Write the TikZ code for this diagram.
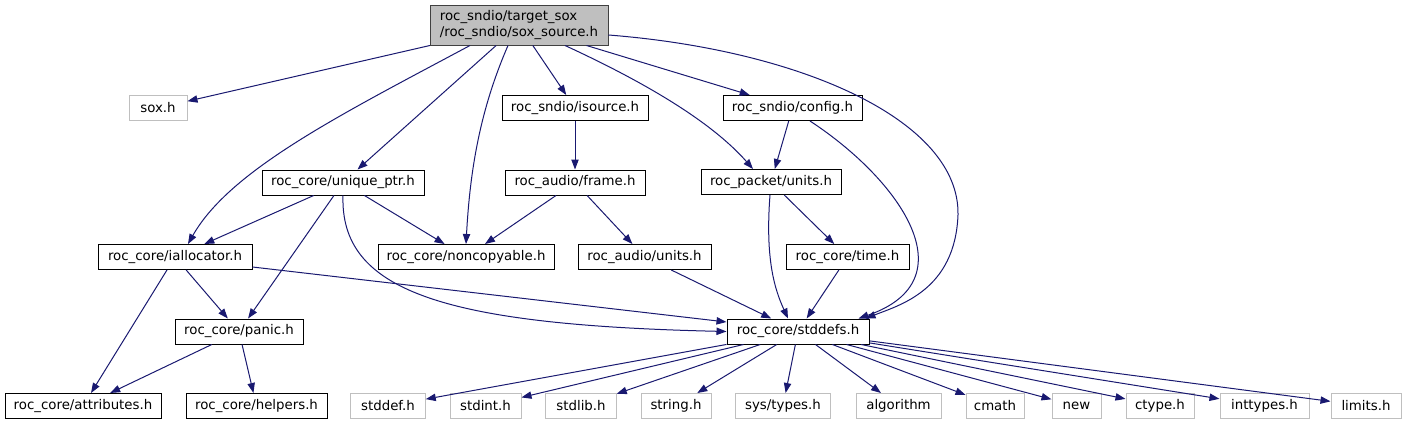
\documentclass[tikz,border=0pt]{standalone}
\usepackage{fontspec}
\setmainfont{DejaVu Sans}
\usetikzlibrary{arrows.meta}
\definecolor{edgeblue}{HTML}{191970}
\definecolor{boxgray}{HTML}{BFBFBF}

\begin{document}
\begin{tikzpicture}[x=0.75pt,y=-0.75pt,
    font=\fontsize{10}{12}\selectfont,
    hdr/.style={draw=black, fill=white, line width=0.75pt, minimum height=18.75pt, inner sep=0pt},
    syshdr/.style={hdr, draw=boxgray},
    dep/.style={draw=edgeblue, line width=0.75pt, -{Triangle[length=7.5pt,width=5.5pt]}}]
    \useasboundingbox (0,0) rectangle (1407,425);

    % The file itself
    \node[hdr, fill=boxgray, draw=black!75, minimum width=133.5pt, minimum height=30pt, align=left] (src) at (519,25)
        {roc\_sndio/target\_sox\\/roc\_sndio/sox\_source.h};

    % Project headers
    \node[syshdr, minimum width=43.5pt] (sox) at (158,108) {sox.h};
    \node[hdr, minimum width=109.5pt] (isource) at (575,108) {roc\_sndio/isource.h};
    \node[hdr, minimum width=104.25pt] (config) at (792.5,108) {roc\_sndio/config.h};
    \node[hdr, minimum width=121.5pt] (uptr) at (343,182.5) {roc\_core/unique\_ptr.h};
    \node[hdr, minimum width=105pt] (frame) at (575,182.5) {roc\_audio/frame.h};
    \node[hdr, minimum width=105pt] (punits) at (771,182) {roc\_packet/units.h};
    \node[hdr, minimum width=115.5pt] (ialloc) at (175,257) {roc\_core/iallocator.h};
    \node[hdr, minimum width=132pt] (noncopy) at (466,257) {roc\_core/noncopyable.h};
    \node[hdr, minimum width=99.75pt] (aunits) at (644.5,257) {roc\_audio/units.h};
    \node[hdr, minimum width=92.25pt] (time) at (847.5,257) {roc\_core/time.h};
    \node[hdr, minimum width=96pt] (panic) at (239,331.5) {roc\_core/panic.h};
    \node[hdr, minimum width=106.5pt] (stddefs) at (798,331.5) {roc\_core/stddefs.h};
    \node[hdr, minimum width=117pt] (attrib) at (83,406) {roc\_core/attributes.h};
    \node[hdr, minimum width=105.75pt] (helpers) at (256.5,406) {roc\_core/helpers.h};

    % System headers
    \foreach \name/\cx/\w/\lbl in {stddefh/388/55.9/stddef.h, stdinth/485.5/53.25/stdint.h,
        stdlibh/581/52.9/stdlib.h, stringh/676/52.5/string.h, systypes/783/71.6/{sys/types.h},
        algorithm/898.5/63.75/algorithm, cmath/995/43.5/cmath, new/1076.5/36.75/new,
        ctypeh/1160/51/ctype.h, inttypesh/1264.5/66.75/inttypes.h, limitsh/1366/52.5/limits.h}
        \node[syshdr, minimum width=\w pt] (\name) at (\cx,406) {\lbl};

    % Includes of sox_source.h
    \draw[dep] (src) -- (sox);
    \draw[dep] ([shift={(-49,0)}]src.south) .. controls (340,115) and (230,170) .. ([shift={(13,0)}]ialloc.north);
    \draw[dep] (src) -- (uptr);
    \draw[dep] ([shift={(-11,0)}]src.south) .. controls (480,110) and (470,170) .. (noncopy.north);
    \draw[dep] (src) -- (isource);
    \draw[dep] ([shift={(46,0)}]src.south) .. controls (640,80) and (710,120) .. ([shift={(-18,0)}]punits.north);
    \draw[dep] (src) -- (config);
    \draw[dep] ([shift={(0,10)}]src.east) .. controls (800,50) and (960,120) .. (958,215)
        .. controls (955,290) and (900,305) .. ([shift={(-4,0)}]stddefs.north east);

    % Second level
    \draw[dep] (config) -- (punits);
    \draw[dep] ([shift={(17.5,0)}]config.south) .. controls (900,180) and (970,280) .. ([shift={(-11,0)}]stddefs.north east);
    \draw[dep] (isource) -- (frame);
    \draw[dep] (frame) -- (noncopy);
    \draw[dep] (frame) -- (aunits);
    \draw[dep] (uptr) -- (ialloc);
    \draw[dep] (uptr) -- (noncopy);
    \draw[dep] (uptr) -- (panic);
    \draw[dep] (uptr.south) .. controls (340,290) and (440,325) .. (stddefs.west);
    \draw[dep] (punits) -- (time);
    \draw[dep] ([shift={(-1,0)}]punits.south) .. controls (765,260) and (775,290) .. ([shift={(-10,0)}]stddefs.north);

    % Lower levels
    \draw[dep] ([shift={(0,10)}]ialloc.east) -- ([shift={(0,-9.5)}]stddefs.west);
    \draw[dep] (ialloc) -- (panic);
    \draw[dep] (ialloc) -- (attrib);
    \draw[dep] (panic) -- (attrib);
    \draw[dep] (panic) -- (helpers);
    \draw[dep] (aunits) -- (stddefs);
    \draw[dep] (time) -- (stddefs);
    \foreach \name in {stddefh,stdinth,stdlibh,stringh,systypes,algorithm,cmath,new,ctypeh,inttypesh,limitsh}
        \draw[dep] (stddefs) -- (\name);
\end{tikzpicture}
\end{document}
